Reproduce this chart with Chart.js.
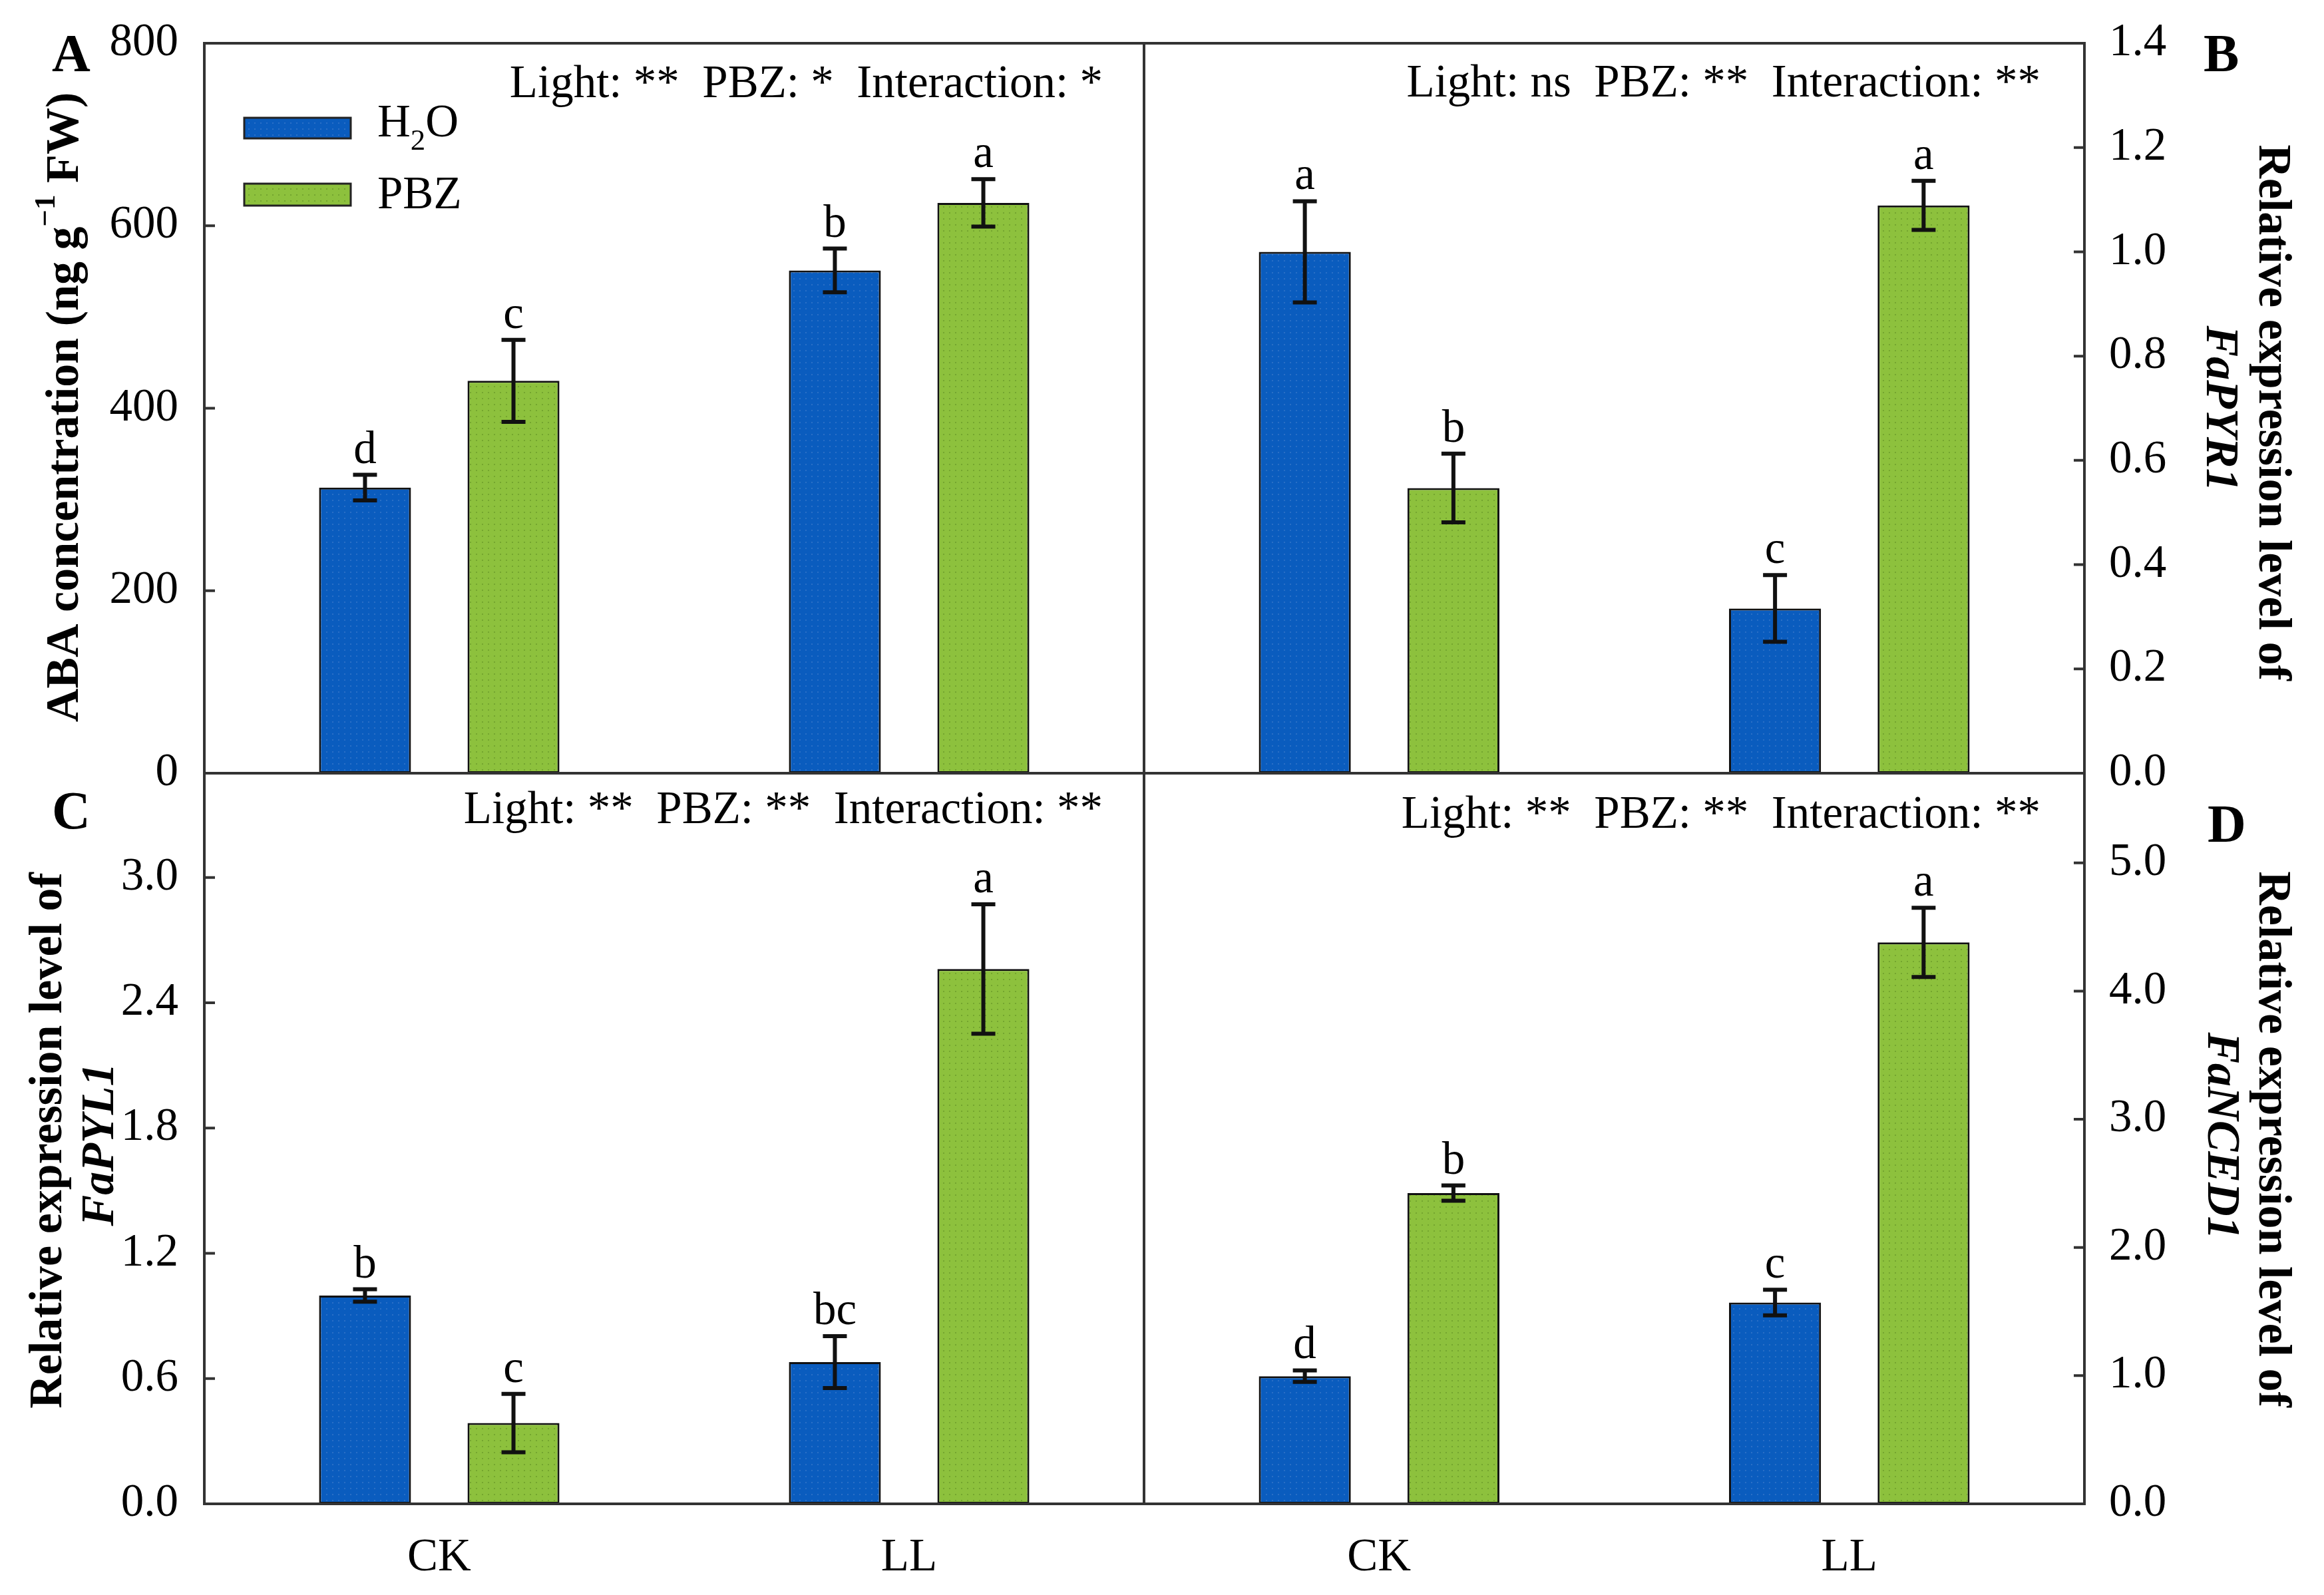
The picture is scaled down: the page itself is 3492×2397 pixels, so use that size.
<!DOCTYPE html>
<html>
<head>
<meta charset="utf-8">
<script src="https://cdn.jsdelivr.net/npm/chart.js@4.4.1/dist/chart.umd.min.js"></script>
<style>
html,body{margin:0;padding:0;background:#fff;}
#wrap{position:relative;width:3492px;height:2397px;background:#fff;overflow:hidden;}
canvas{position:absolute;}
</style>
</head>
<body>
<div id="wrap">
<canvas id="cA" width="1740" height="1240" style="left:0px;top:0px;"></canvas>
<canvas id="cB" width="1792" height="1240" style="left:1700px;top:0px;"></canvas>
<canvas id="cC" width="1740" height="1317" style="left:0px;top:1080px;"></canvas>
<canvas id="cD" width="1792" height="1317" style="left:1700px;top:1080px;"></canvas>
</div>
<script>
// ---------- data ----------
const categories = ['CK', 'LL'];
const seriesNames = ['H₂O', 'PBZ'];

// Panel A: ABA concentration
const abaH2O = [313, 551];
const abaH2OErr = [14, 24];
const abaH2OLetters = ['d', 'b'];
const abaPBZ = [430, 625];
const abaPBZErr = [45, 26];
const abaPBZLetters = ['c', 'a'];
const abaTicks = [0, 200, 400, 600, 800];

// Panel B: FaPYR1
const pyr1H2O = [1.00, 0.316];
const pyr1H2OErr = [0.097, 0.064];
const pyr1H2OLetters = ['a', 'c'];
const pyr1PBZ = [0.547, 1.089];
const pyr1PBZErr = [0.066, 0.047];
const pyr1PBZLetters = ['b', 'a'];
const pyr1Ticks = [0, 0.2, 0.4, 0.6, 0.8, 1.0, 1.2, 1.4];

// Panel C: FaPYL1
const pyl1H2O = [0.998, 0.679];
const pyl1H2OErr = [0.03, 0.124];
const pyl1H2OLetters = ['b', 'bc'];
const pyl1PBZ = [0.387, 2.562];
const pyl1PBZErr = [0.14, 0.31];
const pyl1PBZLetters = ['c', 'a'];
const pyl1Ticks = [0, 0.6, 1.2, 1.8, 2.4, 3.0];

// Panel D: FaNCED1
const nced1H2O = [0.996, 1.570];
const nced1H2OErr = [0.045, 0.10];
const nced1H2OLetters = ['d', 'c'];
const nced1PBZ = [2.424, 4.380];
const nced1PBZErr = [0.06, 0.27];
const nced1PBZLetters = ['b', 'a'];
const nced1Ticks = [0, 1, 2, 3, 4, 5];

const statsA = 'Light: **  PBZ: *  Interaction: *';
const statsB = 'Light: ns  PBZ: **  Interaction: **';
const statsC = 'Light: **  PBZ: **  Interaction: **';
const statsD = 'Light: **  PBZ: **  Interaction: **';

// ---------- style ----------
const SERIF = '"Liberation Serif", "Times New Roman", serif';
const FS = 69;
const BLUE = '#0a5cbe';
const GREEN = '#8dc13d';
const EDGE = '#111111';
const FRAME = '#333333';

function stipple(base, dot) {
  const c = document.createElement('canvas');
  c.width = 9; c.height = 9;
  const g = c.getContext('2d');
  g.fillStyle = base; g.fillRect(0, 0, 9, 9);
  g.fillStyle = dot; g.fillRect(4, 4, 2, 2);
  return g.createPattern(c, 'repeat');
}
const blueFill = stipple(BLUE, '#2a6fc6');
const greenFill = stipple(GREEN, '#74a52f');

function drawRich(ctx, segs, x, y, rot, align) {
  ctx.save();
  ctx.translate(x, y);
  ctx.rotate(rot || 0);
  ctx.textBaseline = 'alphabetic';
  ctx.textAlign = 'left';
  ctx.fillStyle = '#000';
  let total = 0;
  segs.forEach(s => { ctx.font = s.font; s.w = ctx.measureText(s.t).width; total += s.w; });
  let cx = align === 'center' ? -total / 2 : (align === 'right' ? -total : 0);
  segs.forEach(s => { ctx.font = s.font; ctx.fillText(s.t, cx, s.dy || 0); cx += s.w; });
  ctx.restore();
}

const fReg = FS + 'px ' + SERIF;
const fBold = 'bold 70px ' + SERIF;
const fBoldIt = 'italic bold 70px ' + SERIF;
const fLetter = 'bold 80px ' + SERIF;

const panelPlugin = {
  id: 'panelDeco',
  afterDatasetsDraw(chart) {
    const ctx = chart.ctx;
    const ys = chart.scales.y;
    ctx.save();
    chart.data.datasets.forEach((ds, di) => {
      const meta = chart.getDatasetMeta(di);
      meta.data.forEach((bar, i) => {
        const v = ds.data[i], e = ds.err[i];
        const yt = ys.getPixelForValue(v + e);
        const yb = ys.getPixelForValue(v - e);
        ctx.strokeStyle = EDGE;
        ctx.lineWidth = 6;
        ctx.beginPath();
        ctx.moveTo(bar.x, yt); ctx.lineTo(bar.x, yb);
        ctx.moveTo(bar.x - 18, yt); ctx.lineTo(bar.x + 18, yt);
        ctx.moveTo(bar.x - 18, yb); ctx.lineTo(bar.x + 18, yb);
        ctx.stroke();
        ctx.fillStyle = '#000';
        ctx.font = fReg;
        ctx.textAlign = 'center';
        ctx.textBaseline = 'alphabetic';
        ctx.fillText(ds.letters[i], bar.x, yt - 18);
      });
    });
    ctx.restore();
  },
  afterDraw(chart) {
    const ctx = chart.ctx;
    const ca = chart.chartArea;
    const o = chart.options.plugins.panelDeco;
    const ys = chart.scales.y;
    ctx.save();
    // frame
    ctx.strokeStyle = FRAME;
    ctx.lineWidth = 4;
    ctx.strokeRect(ca.left, ca.top, ca.right - ca.left, ca.bottom - ca.top);
    // inward ticks
    ctx.beginPath();
    o.ticks.forEach(v => {
      const py = ys.getPixelForValue(v);
      if (o.side === 'left') { ctx.moveTo(ca.left, py); ctx.lineTo(ca.left + 16, py); }
      else { ctx.moveTo(ca.right - 16, py); ctx.lineTo(ca.right, py); }
    });
    ctx.stroke();
    // page-coordinate texts
    ctx.translate(-o.ox, -o.oy);
    ctx.fillStyle = '#000';
    ctx.textBaseline = 'alphabetic';
    // panel letter
    ctx.font = fLetter; ctx.textAlign = 'left';
    ctx.fillText(o.letter[0], o.letter[1], o.letter[2]);
    // stats
    ctx.font = fReg; ctx.textAlign = 'right';
    ctx.fillText(o.stats[0], o.stats[1], o.stats[2]);
    // titles
    o.titles.forEach(t => drawRich(ctx, t.segs, t.x, t.y, t.rot, 'center'));
    // legend
    if (o.legend) {
      const items = chart.data.datasets;
      const rects = [[367, 177, 160, 31, 205], [367, 276, 160, 33, 313]];
      items.forEach((ds, i) => {
        const r = rects[i];
        ctx.fillStyle = ds.backgroundColor;
        ctx.fillRect(r[0], r[1], r[2], r[3]);
        ctx.strokeStyle = '#222';
        ctx.lineWidth = 3;
        ctx.strokeRect(r[0], r[1], r[2], r[3]);
        let segs;
        if (ds.label === 'H₂O') {
          segs = [{t: 'H', font: fReg}, {t: '2', font: '45px ' + SERIF, dy: 20}, {t: 'O', font: fReg}];
        } else {
          segs = [{t: ds.label, font: fReg}];
        }
        drawRich(ctx, segs, 567, r[4], 0, 'left');
      });
    }
    ctx.restore();
  }
};

function makePanel(id, c) {
  const fmt = c.fmt;
  return new Chart(document.getElementById(id), {
    type: 'bar',
    data: {
      labels: categories,
      datasets: [
        {label: seriesNames[0], data: c.h2o, err: c.h2oErr, letters: c.h2oLet,
         backgroundColor: blueFill, borderColor: EDGE, borderWidth: 3, borderSkipped: false,
         categoryPercentage: 0.632, barPercentage: 0.619},
        {label: seriesNames[1], data: c.pbz, err: c.pbzErr, letters: c.pbzLet,
         backgroundColor: greenFill, borderColor: EDGE, borderWidth: 3, borderSkipped: false,
         categoryPercentage: 0.632, barPercentage: 0.619}
      ]
    },
    options: {
      responsive: false,
      animation: false,
      devicePixelRatio: 1,
      layout: {padding: c.padding},
      plugins: {
        legend: {display: false},
        tooltip: {enabled: false},
        panelDeco: c.deco
      },
      scales: {
        x: {
          display: c.showX,
          grid: {display: false, drawTicks: false},
          border: {display: false},
          ticks: {font: {family: SERIF, size: FS}, color: '#000', padding: 40},
          afterFit: s => { s.height = c.showX ? 137 : 0; s.paddingLeft = 0; s.paddingRight = 0; }
        },
        y: {
          position: c.deco.side,
          min: 0, max: c.max,
          grid: {display: false, drawTicks: false},
          border: {display: false},
          afterBuildTicks: s => { s.ticks = c.deco.ticks.map(v => ({value: v})); },
          ticks: {font: {family: SERIF, size: FS}, color: '#000', padding: c.deco.side === 'left' ? 39 : 37,
                  callback: v => fmt(v)},
          afterFit: s => { s.width = c.yW; s.paddingTop = 0; s.paddingBottom = 0; }
        }
      }
    },
    plugins: [panelPlugin]
  });
}

const int0 = v => String(Math.round(v));
const dec1 = v => Number(v).toFixed(1);

makePanel('cA', {
  h2o: abaH2O, h2oErr: abaH2OErr, h2oLet: abaH2OLetters,
  pbz: abaPBZ, pbzErr: abaPBZErr, pbzLet: abaPBZLetters,
  max: 800, fmt: int0, showX: false, yW: 307,
  padding: {top: 65, left: 0, right: 21, bottom: 78},
  deco: {
    side: 'left', ticks: abaTicks, ox: 0, oy: 0,
    letter: ['A', 78, 107], stats: [statsA, 1657, 146], legend: true,
    titles: [{rot: -Math.PI / 2, x: 117, y: 612, segs: [
      {t: 'ABA concentration (ng g', font: fBold},
      {t: '−1', font: 'bold 45px ' + SERIF, dy: -35},
      {t: ' FW)', font: fBold}
    ]}]
  }
});

makePanel('cB', {
  h2o: pyr1H2O, h2oErr: pyr1H2OErr, h2oLet: pyr1H2OLetters,
  pbz: pyr1PBZ, pbzErr: pyr1PBZErr, pbzLet: pyr1PBZLetters,
  max: 1.4, fmt: dec1, showX: false, yW: 360,
  padding: {top: 65, left: 19, right: 0, bottom: 78},
  deco: {
    side: 'right', ticks: pyr1Ticks, ox: 1700, oy: 0,
    letter: ['B', 3311, 107], stats: [statsB, 3066, 145], legend: false,
    titles: [
      {rot: Math.PI / 2, x: 3395, y: 620, segs: [{t: 'Relative expression level of', font: fBold}]},
      {rot: Math.PI / 2, x: 3316, y: 614, segs: [{t: 'FaPYR1', font: fBoldIt}]}
    ]
  }
});

makePanel('cC', {
  h2o: pyl1H2O, h2oErr: pyl1H2OErr, h2oLet: pyl1H2OLetters,
  pbz: pyl1PBZ, pbzErr: pyl1PBZErr, pbzLet: pyl1PBZLetters,
  max: 3.5, fmt: dec1, showX: true, yW: 307,
  padding: {top: 82, left: 0, right: 21, bottom: 0},
  deco: {
    side: 'left', ticks: pyl1Ticks, ox: 0, oy: 1080,
    letter: ['C', 78, 1245], stats: [statsC, 1657, 1237], legend: false,
    titles: [
      {rot: -Math.PI / 2, x: 92, y: 1714, segs: [{t: 'Relative expression level of', font: fBold}]},
      {rot: -Math.PI / 2, x: 170, y: 1720, segs: [{t: 'FaPYL1', font: fBoldIt}]}
    ]
  }
});

makePanel('cD', {
  h2o: nced1H2O, h2oErr: nced1H2OErr, h2oLet: nced1H2OLetters,
  pbz: nced1PBZ, pbzErr: nced1PBZErr, pbzLet: nced1PBZLetters,
  max: 5.7, fmt: dec1, showX: true, yW: 360,
  padding: {top: 82, left: 19, right: 0, bottom: 0},
  deco: {
    side: 'right', ticks: nced1Ticks, ox: 1700, oy: 1080,
    letter: ['D', 3317, 1265], stats: [statsD, 3066, 1244], legend: false,
    titles: [
      {rot: Math.PI / 2, x: 3395, y: 1712, segs: [{t: 'Relative expression level of', font: fBold}]},
      {rot: Math.PI / 2, x: 3318, y: 1707, segs: [{t: 'FaNCED1', font: fBoldIt}]}
    ]
  }
});
</script>
</body>
</html>
